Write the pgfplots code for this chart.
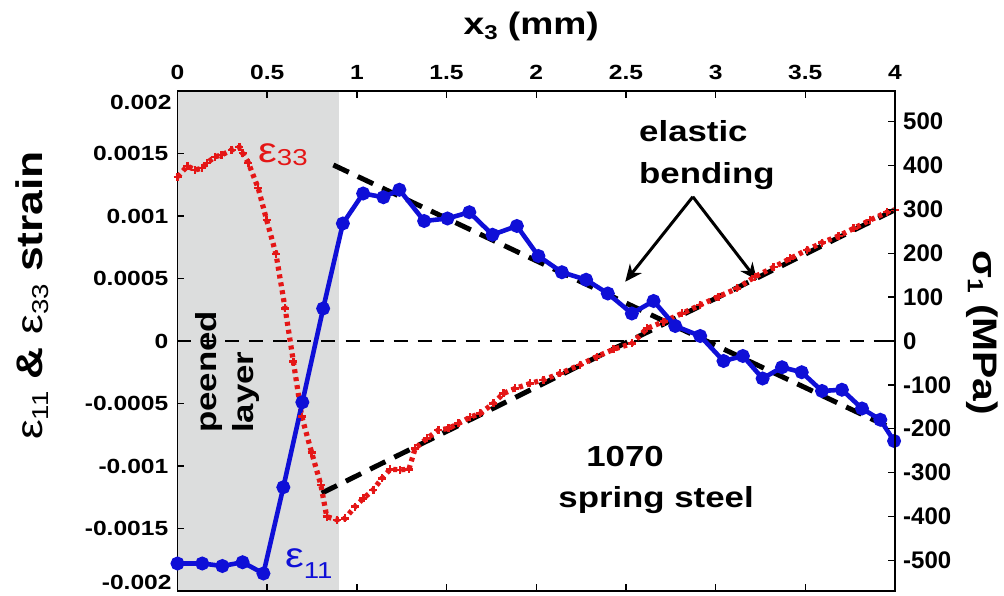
\documentclass[border=0pt]{standalone}
\usepackage{fontspec}
\setmainfont{Liberation Sans}
\newfontfamily\widefont[FakeStretch=1.2]{Liberation Sans}
\usepackage{pgfplots}
\usepackage{pgfplotstable}
\usetikzlibrary{arrows.meta}
\pgfplotsset{compat=1.18}

\definecolor{epsblue}{RGB}{15,15,215}
\definecolor{epsred}{RGB}{228,22,22}
\definecolor{peengrey}{RGB}{220,221,221}

% in-plane strain eps_11 through the thickness
\pgfplotstableread{
x e
0.000 -0.00178
0.138 -0.00178
0.250 -0.00180
0.363 -0.00177
0.479 -0.00186
0.590 -0.00117
0.696 -0.00049
0.812 0.00026
0.922 0.00094
1.035 0.00118
1.148 0.00115
1.237 0.00121
1.375 0.00096
1.505 0.00098
1.627 0.00103
1.756 0.00085
1.892 0.00092
2.012 0.00068
2.143 0.00055
2.278 0.00049
2.399 0.00038
2.533 0.00022
2.654 0.00032
2.775 0.00012
2.914 0.00004
3.044 -0.00016
3.152 -0.00012
3.262 -0.00030
3.370 -0.00021
3.480 -0.00025
3.593 -0.00040
3.704 -0.00039
3.816 -0.00054
3.918 -0.00063
3.995 -0.00080
}\epsEleven

% normal strain eps_33 through the thickness
\pgfplotstableread{
x e
0.001 0.001314
0.055 0.00140
0.098 0.001368
0.135 0.001382
0.166 0.001426
0.209 0.001474
0.246 0.001488
0.302 0.001528
0.345 0.00155
0.363 0.001502
0.395 0.001426
0.450 0.001222
0.497 0.000968
0.549 0.000696
0.600 0.00026
0.646 -0.000165
0.693 -0.000605
0.748 -0.000893
0.799 -0.00115
0.832 -0.001405
0.888 -0.00143
0.934 -0.00142
0.990 -0.001325
1.036 -0.00126
1.092 -0.00119
1.139 -0.00110
1.185 -0.001027
1.240 -0.00103
1.290 -0.001027
1.325 -0.000859
1.390 -0.00078
1.455 -0.000712
1.510 -0.00070
1.566 -0.00066
1.631 -0.00061
1.687 -0.00058
1.761 -0.00050
1.817 -0.00042
1.882 -0.00038
1.966 -0.00034
2.040 -0.00031
2.133 -0.00026
2.245 -0.00019
2.338 -0.000125
2.430 -0.000067
2.533 -0.00002
2.617 0.00010
2.710 0.000155
2.812 0.00022
2.914 0.000288
3.016 0.000355
3.119 0.00042
3.220 0.000515
3.323 0.00059
3.416 0.00066
3.509 0.000728
3.593 0.000787
3.685 0.00084
3.769 0.00090
3.862 0.000968
3.955 0.00103
4.000 0.00105
}\epsThirtyThree

% linear elastic-bending fits
\pgfplotstableread{
x e
0.869 0.001408
4.000 -0.000712
}\fitEleven
\pgfplotstableread{
x e
0.804 -0.001217
4.000 0.00105
}\fitThirtyThree

\newcommand{\tickfont}{\widefont\bfseries\fontsize{20.5}{22}\selectfont}
\newcommand{\rtickfont}{\bfseries\fontsize{24}{26}\selectfont}
\newcommand{\labfont}{\widefont\bfseries\fontsize{29}{32}\selectfont}

\begin{document}
\begin{tikzpicture}
\begin{axis}[
  at={(0pt,0pt)}, anchor=south west,
  scale only axis, width=717.5pt, height=500pt,
  xmin=0, xmax=4, ymin=-0.002, ymax=0.002,
  clip=false, axis on top,
  axis line style={line width=1.5pt},
  tick style={line width=1.5pt, black},
  major tick length=7pt, tick align=inside,
  xtick={0,0.5,1,1.5,2,2.5,3,3.5,4},
  xticklabels={0,0.5,1,1.5,2,2.5,3,3.5,4},
  xtick pos=both, xticklabel pos=right,
  xticklabel style={font=\tickfont, anchor=base, inner sep=0pt, yshift=11pt},
  ytick={-0.002,-0.0015,-0.001,-0.0005,0,0.0005,0.001,0.0015,0.002},
  yticklabels={{},-0.0015,-0.001,-0.0005,0,0.0005,0.001,0.0015,{}},
  ytick pos=left, scaled y ticks=false,
  yticklabel style={font=\tickfont, anchor=east, inner sep=0pt, xshift=-9pt},
]
% peened surface layer
\addplot[fill=peengrey, draw=none, forget plot]
  coordinates {(0,-0.002) (0.9,-0.002) (0.9,0.002) (0,0.002)} \closedcycle;
% zero-strain reference
\addplot[black, line width=1.2pt, dash pattern=on 14pt off 10pt]
  coordinates {(0,0) (4,0)};
% elastic bending fits
\addplot[black, line width=5pt, dash pattern=on 17pt off 10pt] table[x=x,y=e] {\fitEleven};
\addplot[black, line width=5pt, dash pattern=on 17pt off 10pt] table[x=x,y=e] {\fitThirtyThree};
% measured strains
\addplot[epsred, line width=5.2pt, dash pattern=on 4pt off 4pt,
  mark=+, mark size=4pt, mark options={solid, line width=2.4pt}]
  table[x=x,y=e] {\epsThirtyThree};
\addplot[epsblue, line width=4.6pt, mark=*, mark size=4.6pt,
  mark options={solid}]
  table[x=x,y=e] {\epsEleven};

% end labels of the strain scale, set just inside the frame
\node[anchor=east, inner sep=0pt, font=\tickfont] at (axis cs:-0.0318,0.00191) {0.002};
\node[anchor=east, inner sep=0pt, font=\tickfont] at (axis cs:-0.0318,-0.00193) {-0.002};

% annotations
\node[anchor=base west, text=epsred, inner sep=0pt]
  at (axis cs:0.449,0.001424)
  {\widefont\fontsize{35}{36}\selectfont ε\raisebox{-2.5pt}{\fontsize{23}{24}\selectfont 33}};
\node[anchor=base west, text=epsblue, inner sep=0pt]
  at (axis cs:0.599,-0.001816)
  {\widefont\fontsize{35}{36}\selectfont ε\raisebox{-11pt}{\fontsize{23}{24}\selectfont 11}};
\node[rotate=90, anchor=base west, inner sep=0pt, font=\labfont]
  at (axis cs:0.215,-0.000736) {peened};
\node[rotate=90, anchor=base west, inner sep=0pt, font=\labfont]
  at (axis cs:0.426,-0.000736) {layer};
\node[anchor=base west, inner sep=0pt, font=\labfont] at (axis cs:2.573,0.001594) {elastic};
\node[anchor=base west, inner sep=0pt, font=\labfont] at (axis cs:2.573,0.001256) {bending};
\node[anchor=base, inner sep=0pt, font=\labfont] at (axis cs:2.495,-0.001008) {1070};
\node[anchor=base, inner sep=0pt, font=\labfont] at (axis cs:2.668,-0.001336) {spring steel};
\draw[-{Stealth[length=17pt,width=15pt]}, line width=3pt]
  (axis cs:2.873,0.001154) -- (axis cs:2.496,0.000474);
\draw[-{Stealth[length=17pt,width=15pt]}, line width=3pt]
  (axis cs:2.873,0.001154) -- (axis cs:3.230,0.000488);

% axis titles
\node[anchor=base, inner sep=0pt] at (rel axis cs:0.493,1.112)
  {\widefont\bfseries\fontsize{31}{33}\selectfont x\raisebox{-5pt}{\fontsize{20}{21}\selectfont 3} (mm)};
\node[rotate=90, anchor=base west, inner sep=0pt]
  at (axis cs:-0.755,-0.000792)
  {\widefont\bfseries\fontsize{37}{39}\selectfont {\mdseries ε\raisebox{-6pt}{\fontsize{23}{24}\selectfont 11}} \& {\mdseries ε\raisebox{-6pt}{\fontsize{23}{24}\selectfont 33}} strain};
\node[rotate=-90, anchor=base west, inner sep=0pt]
  at (axis cs:4.44,0.000728)
  {\widefont\bfseries\fontsize{34}{36}\selectfont σ\raisebox{-6pt}{\fontsize{22}{23}\selectfont 1} (MPa)};
\end{axis}

% stress scale on the right-hand side
\begin{axis}[
  at={(0pt,0pt)}, anchor=south west,
  scale only axis, width=717.5pt, height=500pt,
  xmin=0, xmax=4, ymin=-570, ymax=570,
  hide x axis, axis y line*=right,
  axis line style={line width=1.5pt, -},
  tick style={line width=1.5pt, black},
  major tick length=7pt, tick align=inside,
  ytick={-500,-400,-300,-200,-100,0,100,200,300,400,500},
  yticklabels={-500,-400,-300,-200,-100,0,100,200,300,400,500},
  yticklabel style={font=\rtickfont, anchor=west, inner sep=0pt, xshift=8pt},
]
\addplot[draw=none] coordinates {(0,0)};
\end{axis}

\pgfresetboundingbox
\path[use as bounding box] (-177.5pt,-5pt) rectangle (826.5pt,591pt);
\end{tikzpicture}
\end{document}
